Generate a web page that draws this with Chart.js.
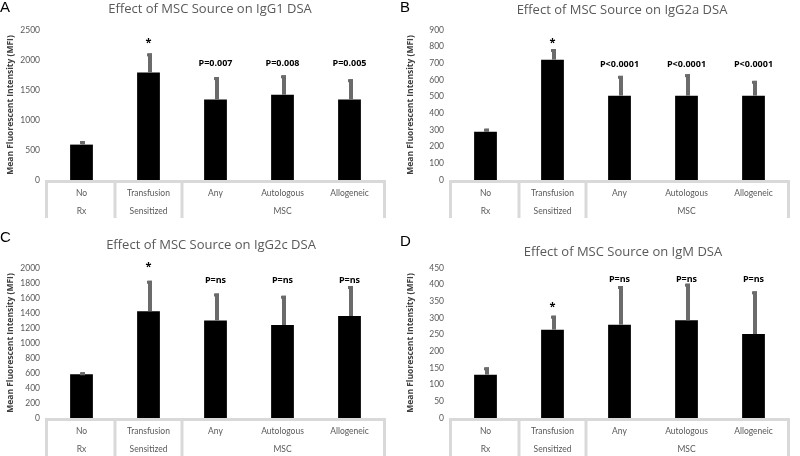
<!DOCTYPE html>
<html>
<head>
<meta charset="utf-8">
<script src="https://cdn.jsdelivr.net/npm/chart.js@4.4.1/dist/chart.umd.min.js"></script>
<style>
  body { margin: 0; background: #fff; width: 800px; height: 456px; overflow: hidden; position: relative; }
  canvas { position: absolute; }
</style>
</head>
<body>
<canvas id="pA" width="400" height="228" style="left:0;top:0"></canvas>
<canvas id="pB" width="400" height="228" style="left:400px;top:0"></canvas>
<canvas id="pC" width="400" height="228" style="left:0;top:228px"></canvas>
<canvas id="pD" width="400" height="228" style="left:400px;top:228px"></canvas>
<script>
// categories (two-row axis: the second row is the group name)
const categories = [['No', 'Rx'], ['Transfusion', 'Sensitized'], ['Any', ''], ['Autologous', 'MSC'], ['Allogeneic', '']];
const groupBreaks = [1, 2];   // group dividers sit before these category indexes

const titles = [
  'Effect of MSC Source on IgG1 DSA',
  'Effect of MSC Source on IgG2a DSA',
  'Effect of MSC Source on IgG2c DSA',
  'Effect of MSC Source on IgM DSA'
];

// mean MFI and upper error per isotype
const igg1Mean = [590, 1790, 1340, 1420, 1340];
const igg1Err = [60, 320, 375, 325, 340];
const igg1Marks = ['', '*', 'P=0.007', 'P=0.008', 'P=0.005'];

const igg2aMean = [290, 722, 506, 506, 506];
const igg2aErr = [18, 64, 119, 129, 89];
const igg2aMarks = ['', '*', 'P<0.0001', 'P<0.0001', 'P<0.0001'];

const igg2cMean = [585, 1425, 1300, 1240, 1360];
const igg2cErr = [25, 405, 360, 390, 400];
const igg2cMarks = ['', '*', 'P=ns', 'P=ns', 'P=ns'];

const igmMean = [130, 265, 280, 293, 252];
const igmErr = [22, 42, 116, 110, 128];
const igmMarks = ['', '*', 'P=ns', 'P=ns', 'P=ns'];

const yMax = [2500, 900, 2000, 450];
const yStep = [500, 100, 200, 50];

const FONT = 'Lato, sans-serif';
const WIDE = '"Open Sans", sans-serif';

const panels = [
  { id: 'pA', letter: 'A', title: titles[0], mean: igg1Mean, err: igg1Err, marks: igg1Marks, max: yMax[0], step: yStep[0],
    area: { left: 48, top: 30, right: 383, bottom: 180 }, frameBottom: 218, letterY: 8, titleX: 210, titleY: 9, pLevel: 1950, starLevel: 2317 },
  { id: 'pB', letter: 'B', title: titles[1], mean: igg2aMean, err: igg2aErr, marks: igg2aMarks, max: yMax[1], step: yStep[1],
    area: { left: 52, top: 30, right: 387, bottom: 180 }, frameBottom: 218, letterY: 8, titleX: 222, titleY: 10, pLevel: 696, starLevel: 836 },
  { id: 'pC', letter: 'C', title: titles[2], mean: igg2cMean, err: igg2cErr, marks: igg2cMarks, max: yMax[2], step: yStep[2],
    area: { left: 48, top: 40, right: 383, bottom: 190 }, frameBottom: 230, letterY: 10, titleX: 211, titleY: 17, pLevel: 1840, starLevel: 2040 },
  { id: 'pD', letter: 'D', title: titles[3], mean: igmMean, err: igmErr, marks: igmMarks, max: yMax[3], step: yStep[3],
    area: { left: 52, top: 40, right: 387, bottom: 190 }, frameBottom: 230, letterY: 14, titleX: 223, titleY: 24, pLevel: 417, starLevel: 339 }
];

function makeDecor(p) {
  return {
    id: 'decor' + p.letter,
    beforeDatasetsDraw(chart) {
      const { ctx, chartArea: a } = chart;
      const x = chart.scales.x;
      const yLine = a.bottom + 1.5;
      ctx.save();
      ctx.strokeStyle = '#d9d9d9';
      ctx.lineWidth = 3;
      ctx.beginPath();
      ctx.moveTo(a.left - 3, yLine);
      ctx.lineTo(a.right + 3, yLine);
      const edges = [a.left - 1.5]
        .concat(groupBreaks.map(i => (x.getPixelForValue(i - 1) + x.getPixelForValue(i)) / 2))
        .concat([a.right + 1.5]);
      edges.forEach(e => { ctx.moveTo(e, yLine); ctx.lineTo(e, p.frameBottom); });
      ctx.stroke();
      ctx.restore();
    },
    afterDatasetsDraw(chart) {
      const { ctx } = chart;
      const y = chart.scales.y;
      const bars = chart.getDatasetMeta(0).data;
      ctx.save();
      // error bars, upper half only
      ctx.fillStyle = '#6b6b6b';
      bars.forEach((bar, i) => {
        const top = y.getPixelForValue(p.mean[i] + p.err[i]);
        const cx = bar.x + 1.5;
        ctx.fillRect(cx - 2, top, 4, bar.y - top);
        ctx.fillRect(cx - 3, top, 5, 3);
      });
      // significance marks
      ctx.fillStyle = '#000';
      ctx.textAlign = 'center';
      ctx.textBaseline = 'middle';
      bars.forEach((bar, i) => {
        const t = p.marks[i];
        if (!t) return;
        if (t === '*') {
          ctx.font = 'bold 11px ' + WIDE;
          ctx.fillText(t, bar.x, y.getPixelForValue(p.starLevel) + 2);
        } else {
          ctx.font = 'bold 9px ' + WIDE;
          ctx.fillText(t, bar.x, y.getPixelForValue(p.pLevel));
        }
      });
      // title and panel letter
      ctx.fillStyle = '#595959';
      ctx.font = '13px ' + WIDE;
      ctx.fillText(p.title, p.titleX, p.titleY);
      ctx.fillStyle = '#000';
      ctx.textAlign = 'left';
      ctx.font = '15px "Liberation Sans", Arial, sans-serif';
      ctx.fillText(p.letter, 0, p.letterY);
      ctx.restore();
    }
  };
}

panels.forEach(p => {
  new Chart(document.getElementById(p.id), {
    type: 'bar',
    data: {
      labels: categories,
      datasets: [{ data: p.mean, backgroundColor: '#000', barPercentage: 0.34, categoryPercentage: 1 }]
    },
    options: {
      responsive: false,
      animation: false,
      layout: { padding: { top: p.area.top, right: 400 - p.area.right, left: 0, bottom: 0 } },
      plugins: { legend: { display: false }, tooltip: { enabled: false }, title: { display: false } },
      scales: {
        x: {
          grid: { display: false, drawTicks: false },
          border: { display: false },
          ticks: { color: '#595959', font: { family: FONT, size: 8.5, lineHeight: 2.2 }, padding: 3.5, maxRotation: 0, autoSkip: false },
          afterFit: s => { s.height = 228 - p.area.bottom; }
        },
        y: {
          min: 0, max: p.max,
          grid: { display: false, drawTicks: false },
          border: { display: false },
          ticks: { stepSize: p.step, color: '#595959', font: { family: FONT, size: 8.5 }, padding: 8, callback: v => String(v) },
          title: { display: true, text: 'Mean Fluorescent Intensity (MFI)', color: '#404040', font: { family: WIDE, size: 8.5, weight: 'bold' }, padding: 5 },
          afterFit: s => { s.width = p.area.left; }
        }
      }
    },
    plugins: [makeDecor(p)]
  });
});
</script>
</body>
</html>
